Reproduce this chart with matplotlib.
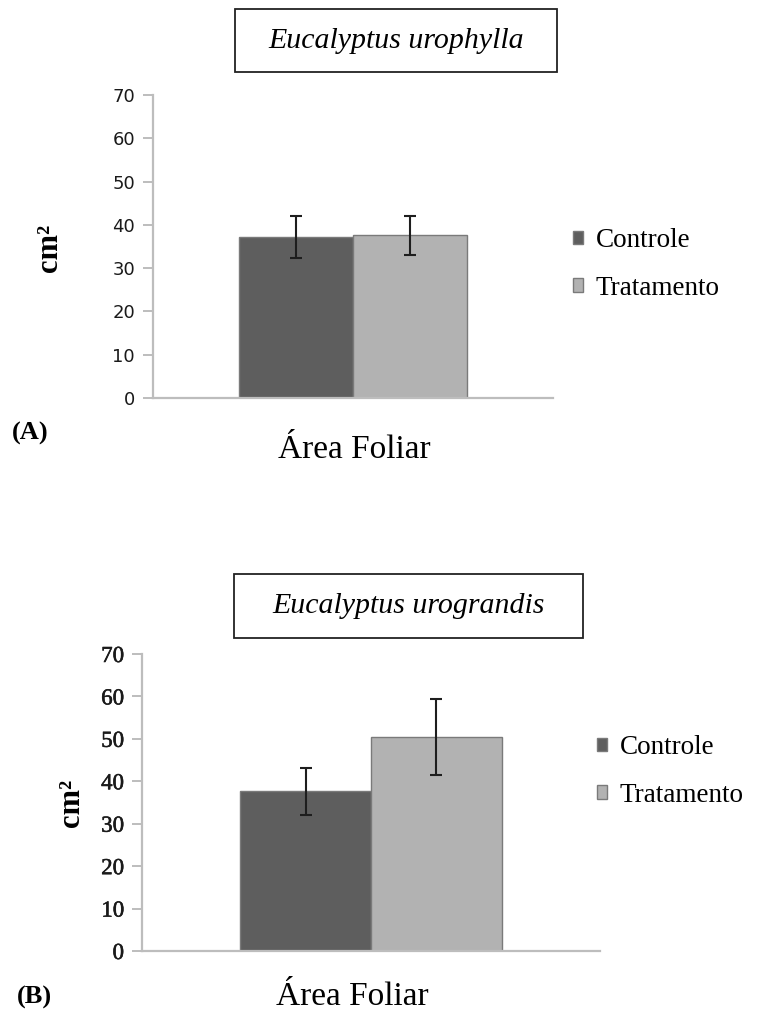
import matplotlib
matplotlib.use("Agg")
import matplotlib.pyplot as plt
from matplotlib.patches import Rectangle
import matplotlib.patheffects as pe
import numpy as np

# Leaf area (cm²) per group, mean and standard deviation
groups = ["Controle", "Tratamento"]
category = ["Área Foliar"]

urophylla_mean = [37.2, 37.6]
urophylla_err = [4.9, 4.5]

urograndis_mean = [37.6, 50.4]
urograndis_err = [5.6, 9.0]

panel_titles = ["Eucalyptus urophylla", "Eucalyptus urograndis"]
panel_tags = ["(A)", "(B)"]
yticks = [0, 10, 20, 30, 40, 50, 60, 70]

W, H = 759, 1013
fig = plt.figure(figsize=(W / 100, H / 100), dpi=100)
fig.patch.set_facecolor("white")

SERIF = ["Liberation Serif", "DejaVu Serif"]
bar_colors = ["#5e5e5e", "#b2b2b2"]
edge_color = "#7a7a7a"
spine_color = "#bdbdbd"


def fx(px):
    return px / W


def fy(py):
    return 1 - py / H


def panel(rect_px, means, errs, title, tag, title_box, tag_xy, label_xy, ylab_xy,
          legend_xy, tick_font, tick_size, tick_bold):
    left, top, right, bottom = rect_px
    ax = fig.add_axes([fx(left), fy(bottom), fx(right) - fx(left), fy(top) - fy(bottom)])
    x = np.arange(len(category))
    width = 0.285
    handles = []
    for i, (m, e) in enumerate(zip(means, errs)):
        off = (i - 0.5) * width
        b = ax.bar(x + off, [m], width=width, color=bar_colors[i],
                   edgecolor=edge_color, linewidth=1.0, label=groups[i], zorder=2)
        ax.errorbar(x + off, [m], yerr=[e], fmt="none", ecolor="#1e1e1e",
                    elinewidth=1.5, capsize=4, capthick=1.5, zorder=3)
        handles.append(b)
    ax.set_xlim(-0.5, 0.5)
    ax.set_ylim(0, 70)
    ax.set_yticks(yticks)
    ax.set_xticks([])
    for s in ["top", "right"]:
        ax.spines[s].set_visible(False)
    for s in ["left", "bottom"]:
        ax.spines[s].set_color(spine_color)
        ax.spines[s].set_linewidth(1.6)
    ax.tick_params(axis="y", direction="out", length=7, width=1.4, color=spine_color,
                   pad=6, labelsize=tick_size, labelcolor="#1a1a1a")
    for lab in ax.get_yticklabels():
        lab.set_family(tick_font)
        if tick_bold:
            lab.set_path_effects([pe.withStroke(linewidth=0.4, foreground="#1a1a1a")])

    # title box
    bx0, by0, bx1, by1 = title_box
    fig.patches.append(Rectangle((fx(bx0), fy(by1)), fx(bx1) - fx(bx0), fy(by0) - fy(by1),
                                 transform=fig.transFigure, facecolor="white",
                                 edgecolor="#222222", linewidth=1.3))
    fig.text(fx((bx0 + bx1) / 2), fy((by0 + by1) / 2), title, family=SERIF,
             style="italic", fontsize=21.5, ha="center", va="center")

    fig.text(fx(tag_xy[0]), fy(tag_xy[1]), tag, family=SERIF,
             fontweight="bold", fontsize=19, ha="left", va="center")
    fig.text(fx(label_xy[0]), fy(label_xy[1]), category[0], family=SERIF,
             fontsize=24, ha="center", va="center")
    fig.text(fx(ylab_xy[0]), fy(ylab_xy[1]), "cm²", family=SERIF, fontweight="bold",
             fontsize=22, rotation=90, ha="center", va="center")

    fig.legend(handles=handles, labels=groups, loc="center left",
               bbox_to_anchor=(fx(legend_xy[0]), fy(legend_xy[1])),
               bbox_transform=fig.transFigure, frameon=False, borderpad=0,
               borderaxespad=0, handlelength=0.38, handleheight=0.38,
               handletextpad=0.45, labelspacing=0.83,
               prop={"family": SERIF, "size": 19.5})
    return ax


panel((153, 95, 553, 398), urophylla_mean, urophylla_err, panel_titles[0], panel_tags[0],
      (235, 9, 557, 72), (12, 433), (354, 450), (50, 248), (573, 264.5),
      ["DejaVu Sans"], 13, False)

panel((142, 654, 600, 951), urograndis_mean, urograndis_err, panel_titles[1], panel_tags[1],
      (234, 574, 583, 638), (17, 997), (352, 997), (72, 803), (597, 771.5),
      SERIF, 16.5, True)

fig.savefig("out.png", dpi=100, facecolor="white")
